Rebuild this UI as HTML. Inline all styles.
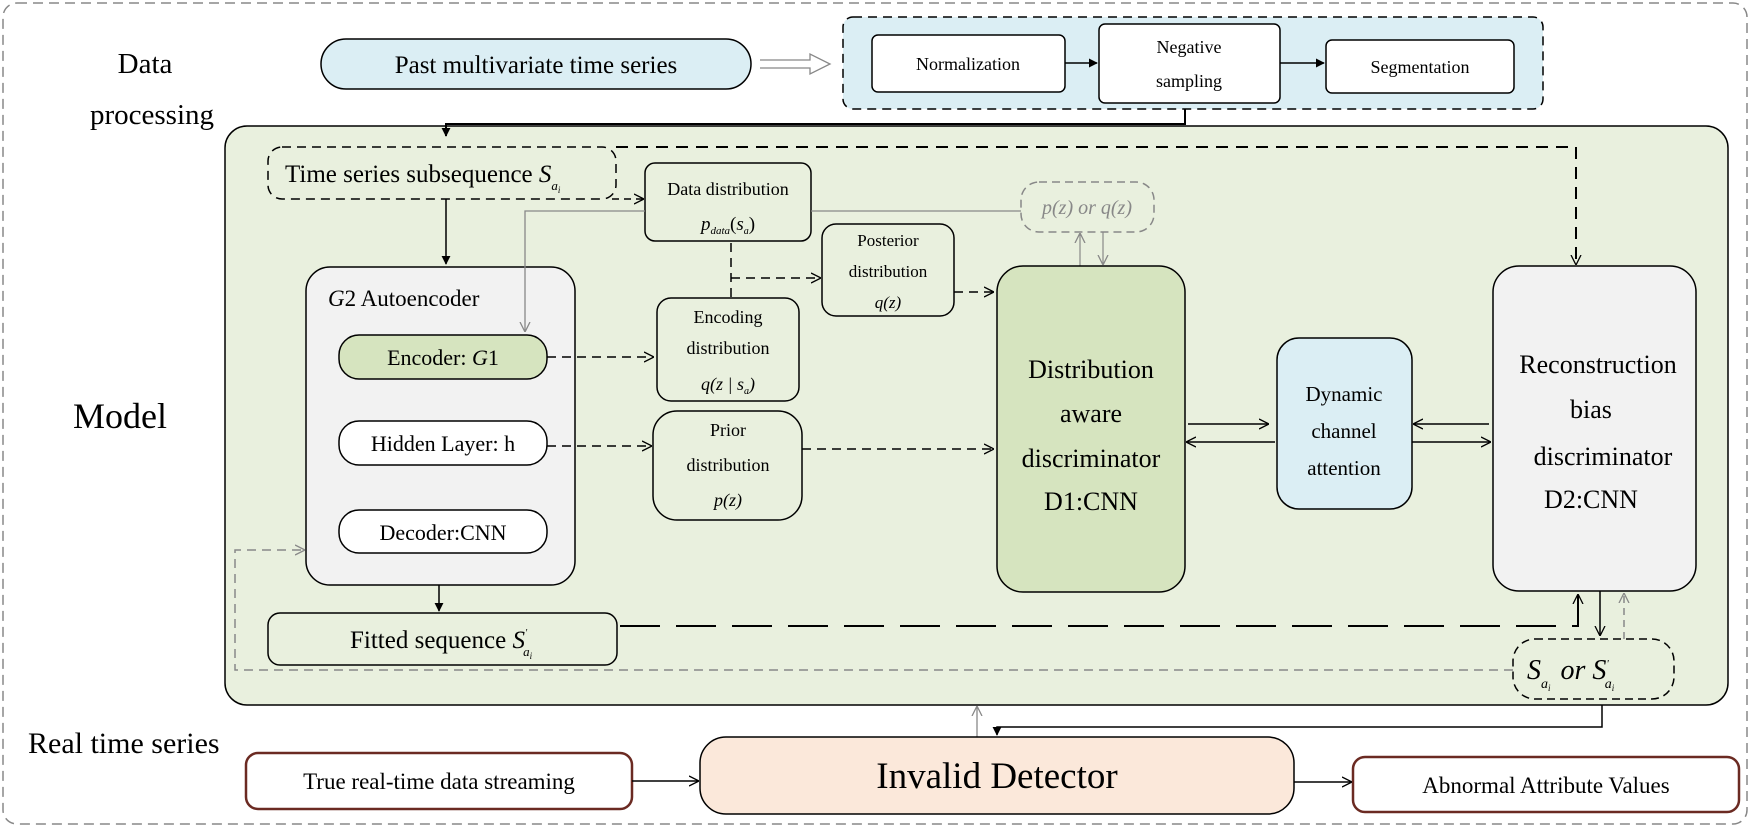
<!DOCTYPE html>
<html><head><meta charset="utf-8"><style>
html,body{margin:0;padding:0;background:#fff}
svg{display:block}
text{font-family:"Liberation Serif",serif;fill:#000}
.i{font-style:italic}
</style></head><body>
<svg width="1750" height="828" viewBox="0 0 1750 828" xmlns="http://www.w3.org/2000/svg">
<defs>
<marker id="af" viewBox="0 0 10 10" refX="9" refY="5" markerWidth="9" markerHeight="9" orient="auto-start-reverse" markerUnits="userSpaceOnUse"><path d="M0,0L10,5L0,10z" fill="#000"/></marker>
<marker id="ao" viewBox="0 0 10 10" refX="9" refY="5" markerWidth="10" markerHeight="12" orient="auto-start-reverse" markerUnits="userSpaceOnUse"><path d="M0,0L10,5L0,10" fill="none" stroke="#000" stroke-width="1.3"/></marker>
<marker id="ag" viewBox="0 0 10 10" refX="9" refY="5" markerWidth="10" markerHeight="12" orient="auto-start-reverse" markerUnits="userSpaceOnUse"><path d="M0,0L10,5L0,10" fill="none" stroke="#888" stroke-width="1.3"/></marker>
</defs>
<rect x="3" y="3" width="1744" height="821" rx="14" fill="none" stroke="#888" stroke-width="1.5" stroke-dasharray="10,6"/>
<text x="145" y="73" font-size="29" text-anchor="middle">Data</text>
<text x="152" y="124" font-size="29" text-anchor="middle">processing</text>
<text x="120" y="428" font-size="36" text-anchor="middle">Model</text>
<text x="28" y="753" font-size="30">Real time series</text>

<rect x="321" y="39" width="430" height="50" rx="25" fill="#dbeef4" stroke="#000" stroke-width="1.5"/>
<text x="536" y="73" font-size="25" text-anchor="middle">Past multivariate time series</text>
<path d="M760,60 L810,60 L810,54 L830,64 L810,74 L810,68 L760,68" fill="#fff" stroke="#888" stroke-width="1.3"/>
<rect x="843" y="17" width="700" height="92" rx="10" fill="#dbeef4" stroke="#000" stroke-width="1.5" stroke-dasharray="9,6"/>
<rect x="872" y="35" width="193" height="57" rx="6" fill="#fff" stroke="#000" stroke-width="1.5"/>
<text x="968" y="70" font-size="18" text-anchor="middle">Normalization</text>
<rect x="1099" y="24" width="181" height="79" rx="6" fill="#fff" stroke="#000" stroke-width="1.5"/>
<text x="1189" y="53" font-size="18" text-anchor="middle">Negative</text>
<text x="1189" y="87" font-size="18" text-anchor="middle">sampling</text>
<rect x="1326" y="40" width="188" height="53" rx="6" fill="#fff" stroke="#000" stroke-width="1.5"/>
<text x="1420" y="73" font-size="18" text-anchor="middle">Segmentation</text>
<line x1="1065" y1="63" x2="1097" y2="63" stroke="#000" stroke-width="1.5" marker-end="url(#af)"/>
<line x1="1280" y1="63" x2="1324" y2="63" stroke="#000" stroke-width="1.5" marker-end="url(#af)"/>

<rect x="225" y="126" width="1503" height="579" rx="22" fill="#e9f0de" stroke="#000" stroke-width="1.5"/>
<polyline points="1185,109 1185,124 446,124 446,136" fill="none" stroke="#000" stroke-width="2" marker-end="url(#af)"/>

<rect x="268" y="147" width="348" height="52" rx="14" fill="none" stroke="#000" stroke-width="1.5" stroke-dasharray="9,6"/>
<text x="285" y="182" font-size="25">Time series subsequence <tspan class="i">S</tspan><tspan class="i" font-size="13" dy="8">a</tspan><tspan class="i" font-size="9" dy="3">i</tspan></text>
<polyline points="616,147 1576,147 1576,264" fill="none" stroke="#000" stroke-width="2" stroke-dasharray="12,8" marker-end="url(#ao)"/>
<line x1="446" y1="199" x2="446" y2="264" stroke="#000" stroke-width="1.5" marker-end="url(#af)"/>
<line x1="612" y1="199" x2="643" y2="199" stroke="#000" stroke-width="1.5" stroke-dasharray="7,5" marker-end="url(#ao)"/>

<rect x="645" y="163" width="166" height="78" rx="10" fill="none" stroke="#000" stroke-width="1.5"/>
<text x="728" y="195" font-size="18" text-anchor="middle">Data distribution</text>
<text x="728" y="230" font-size="19" text-anchor="middle" class="i">p<tspan font-size="11" dy="4">data</tspan><tspan dy="-4" font-style="normal">(</tspan>s<tspan font-size="10" dy="4">a</tspan><tspan dy="-4" font-style="normal">)</tspan></text>
<line x1="811" y1="211" x2="1021" y2="211" stroke="#888" stroke-width="1.3"/>
<rect x="1021" y="182" width="133" height="50" rx="18" fill="none" stroke="#888" stroke-width="1.5" stroke-dasharray="8,5"/>
<text x="1087" y="214" font-size="20" text-anchor="middle" class="i" style="fill:#888">p(z) or q(z)</text>
<line x1="1080" y1="266" x2="1080" y2="234" stroke="#888" stroke-width="1.2" marker-end="url(#ag)"/>
<line x1="1103" y1="232" x2="1103" y2="264" stroke="#888" stroke-width="1.2" marker-end="url(#ag)"/>

<rect x="822" y="224" width="132" height="92" rx="14" fill="none" stroke="#000" stroke-width="1.5"/>
<text x="888" y="246" font-size="17" text-anchor="middle">Posterior</text>
<text x="888" y="277" font-size="17" text-anchor="middle">distribution</text>
<text x="888" y="308" font-size="17" text-anchor="middle" class="i">q(z)</text>
<line x1="731" y1="243" x2="731" y2="297" stroke="#000" stroke-width="1.5" stroke-dasharray="9,6"/>
<line x1="731" y1="278" x2="820" y2="278" stroke="#000" stroke-width="1.5" stroke-dasharray="9,6" marker-end="url(#ao)"/>
<line x1="954" y1="292" x2="993" y2="292" stroke="#000" stroke-width="1.5" stroke-dasharray="9,6" marker-end="url(#ao)"/>

<rect x="657" y="298" width="142" height="103" rx="14" fill="none" stroke="#000" stroke-width="1.5"/>
<text x="728" y="323" font-size="18" text-anchor="middle">Encoding</text>
<text x="728" y="354" font-size="18" text-anchor="middle">distribution</text>
<text x="728" y="390" font-size="18" text-anchor="middle" class="i">q(z | s<tspan font-size="10" dy="4">a</tspan><tspan dy="-4">)</tspan></text>

<rect x="306" y="267" width="269" height="318" rx="24" fill="#f2f2f2" stroke="#000" stroke-width="1.5"/>
<text x="328" y="306" font-size="23"><tspan class="i">G</tspan>2 Autoencoder</text>
<polyline points="645,211 525,211 525,331" fill="none" stroke="#888" stroke-width="1.3" marker-end="url(#ag)"/>
<rect x="339" y="335" width="208" height="44" rx="20" fill="#d6e4bf" stroke="#000" stroke-width="1.5"/>
<text x="443" y="365" font-size="22" text-anchor="middle">Encoder: <tspan class="i">G</tspan>1</text>
<rect x="339" y="421" width="208" height="44" rx="20" fill="#fff" stroke="#000" stroke-width="1.5"/>
<text x="443" y="451" font-size="22" text-anchor="middle">Hidden Layer: h</text>
<rect x="339" y="510" width="208" height="43" rx="20" fill="#fff" stroke="#000" stroke-width="1.5"/>
<text x="443" y="540" font-size="22" text-anchor="middle">Decoder:CNN</text>
<line x1="547" y1="357" x2="653" y2="357" stroke="#000" stroke-width="1.5" stroke-dasharray="9,6" marker-end="url(#ao)"/>
<line x1="547" y1="446" x2="651" y2="446" stroke="#000" stroke-width="1.5" stroke-dasharray="9,6" marker-end="url(#ao)"/>

<rect x="653" y="411" width="149" height="109" rx="24" fill="none" stroke="#000" stroke-width="1.5"/>
<text x="728" y="436" font-size="18" text-anchor="middle">Prior</text>
<text x="728" y="471" font-size="18" text-anchor="middle">distribution</text>
<text x="728" y="506" font-size="18" text-anchor="middle" class="i">p(z)</text>
<line x1="802" y1="449" x2="993" y2="449" stroke="#000" stroke-width="1.5" stroke-dasharray="9,6" marker-end="url(#ao)"/>

<rect x="997" y="266" width="188" height="326" rx="26" fill="#d6e4bf" stroke="#000" stroke-width="1.5"/>
<g font-size="26" text-anchor="middle">
<text x="1091" y="378">Distribution</text>
<text x="1091" y="422">aware</text>
<text x="1091" y="467">discriminator</text>
<text x="1091" y="510">D1:CNN</text>
</g>
<rect x="1277" y="338" width="135" height="171" rx="22" fill="#dbeef4" stroke="#000" stroke-width="1.5"/>
<g font-size="21" text-anchor="middle">
<text x="1344" y="401">Dynamic</text>
<text x="1344" y="438">channel</text>
<text x="1344" y="475">attention</text>
</g>
<line x1="1188" y1="424" x2="1268" y2="424" stroke="#000" stroke-width="1.5" marker-end="url(#ao)"/>
<line x1="1275" y1="442" x2="1187" y2="442" stroke="#000" stroke-width="1.5" marker-end="url(#ao)"/>
<line x1="1489" y1="424" x2="1414" y2="424" stroke="#000" stroke-width="1.5" marker-end="url(#ao)"/>
<line x1="1412" y1="442" x2="1490" y2="442" stroke="#000" stroke-width="1.5" marker-end="url(#ao)"/>

<rect x="1493" y="266" width="203" height="325" rx="26" fill="#f2f2f2" stroke="#000" stroke-width="1.5"/>
<g font-size="26" text-anchor="middle">
<text x="1598" y="373">Reconstruction</text>
<text x="1591" y="418">bias</text>
<text x="1603" y="465">discriminator</text>
<text x="1591" y="508">D2:CNN</text>
</g>

<rect x="268" y="613" width="349" height="52" rx="12" fill="#e9f0de" stroke="#000" stroke-width="1.5"/>
<text x="350" y="648" font-size="25">Fitted sequence <tspan class="i">S</tspan><tspan class="i" font-size="10" dy="-12">'</tspan><tspan class="i" font-size="13" dy="20" dx="-4">a</tspan><tspan class="i" font-size="9" dy="3">i</tspan></text>
<line x1="439" y1="585" x2="439" y2="611" stroke="#000" stroke-width="1.5" marker-end="url(#af)"/>
<polyline points="620,626 1578,626 1578,595" fill="none" stroke="#000" stroke-width="2" stroke-dasharray="40,16" marker-end="url(#ao)"/>
<line x1="1600" y1="591" x2="1600" y2="635" stroke="#000" stroke-width="1.5" marker-end="url(#ao)"/>
<line x1="1624" y1="639" x2="1624" y2="594" stroke="#888" stroke-width="1.5" stroke-dasharray="7,5" marker-end="url(#ag)"/>

<rect x="1513" y="639" width="161" height="60" rx="22" fill="none" stroke="#000" stroke-width="1.5" stroke-dasharray="8,5"/>
<text x="1527" y="679" font-size="28" class="i">S<tspan font-size="14" dy="9">a</tspan><tspan font-size="9" dy="3">i</tspan><tspan dy="-12" dx="10">or S</tspan><tspan font-size="11" dy="-12">'</tspan><tspan font-size="14" dy="21" dx="-4">a</tspan><tspan font-size="9" dy="3">i</tspan></text>
<polyline points="1513,670 235,670 235,550 304,550" fill="none" stroke="#888" stroke-width="1.5" stroke-dasharray="9,6" marker-end="url(#ag)"/>

<polyline points="1602,705 1602,727 997,727 997,735" fill="none" stroke="#000" stroke-width="1.5" marker-end="url(#af)"/>
<line x1="977" y1="737" x2="977" y2="707" stroke="#888" stroke-width="1.3" marker-end="url(#ag)"/>

<rect x="700" y="737" width="594" height="77" rx="26" fill="#fbe8da" stroke="#000" stroke-width="1.5"/>
<text x="997" y="788" font-size="37" text-anchor="middle">Invalid Detector</text>
<rect x="246" y="753" width="386" height="56" rx="12" fill="#fff" stroke="#6b2a22" stroke-width="2.5"/>
<text x="439" y="789" font-size="23" text-anchor="middle">True real-time data streaming</text>
<line x1="632" y1="781" x2="698" y2="781" stroke="#000" stroke-width="1.5" marker-end="url(#ao)"/>
<rect x="1353" y="757" width="386" height="55" rx="12" fill="#fff" stroke="#6b2a22" stroke-width="2.5"/>
<text x="1546" y="793" font-size="23" text-anchor="middle">Abnormal Attribute Values</text>
<line x1="1294" y1="782" x2="1351" y2="782" stroke="#000" stroke-width="1.5" marker-end="url(#ao)"/>
</svg>
</body></html>
